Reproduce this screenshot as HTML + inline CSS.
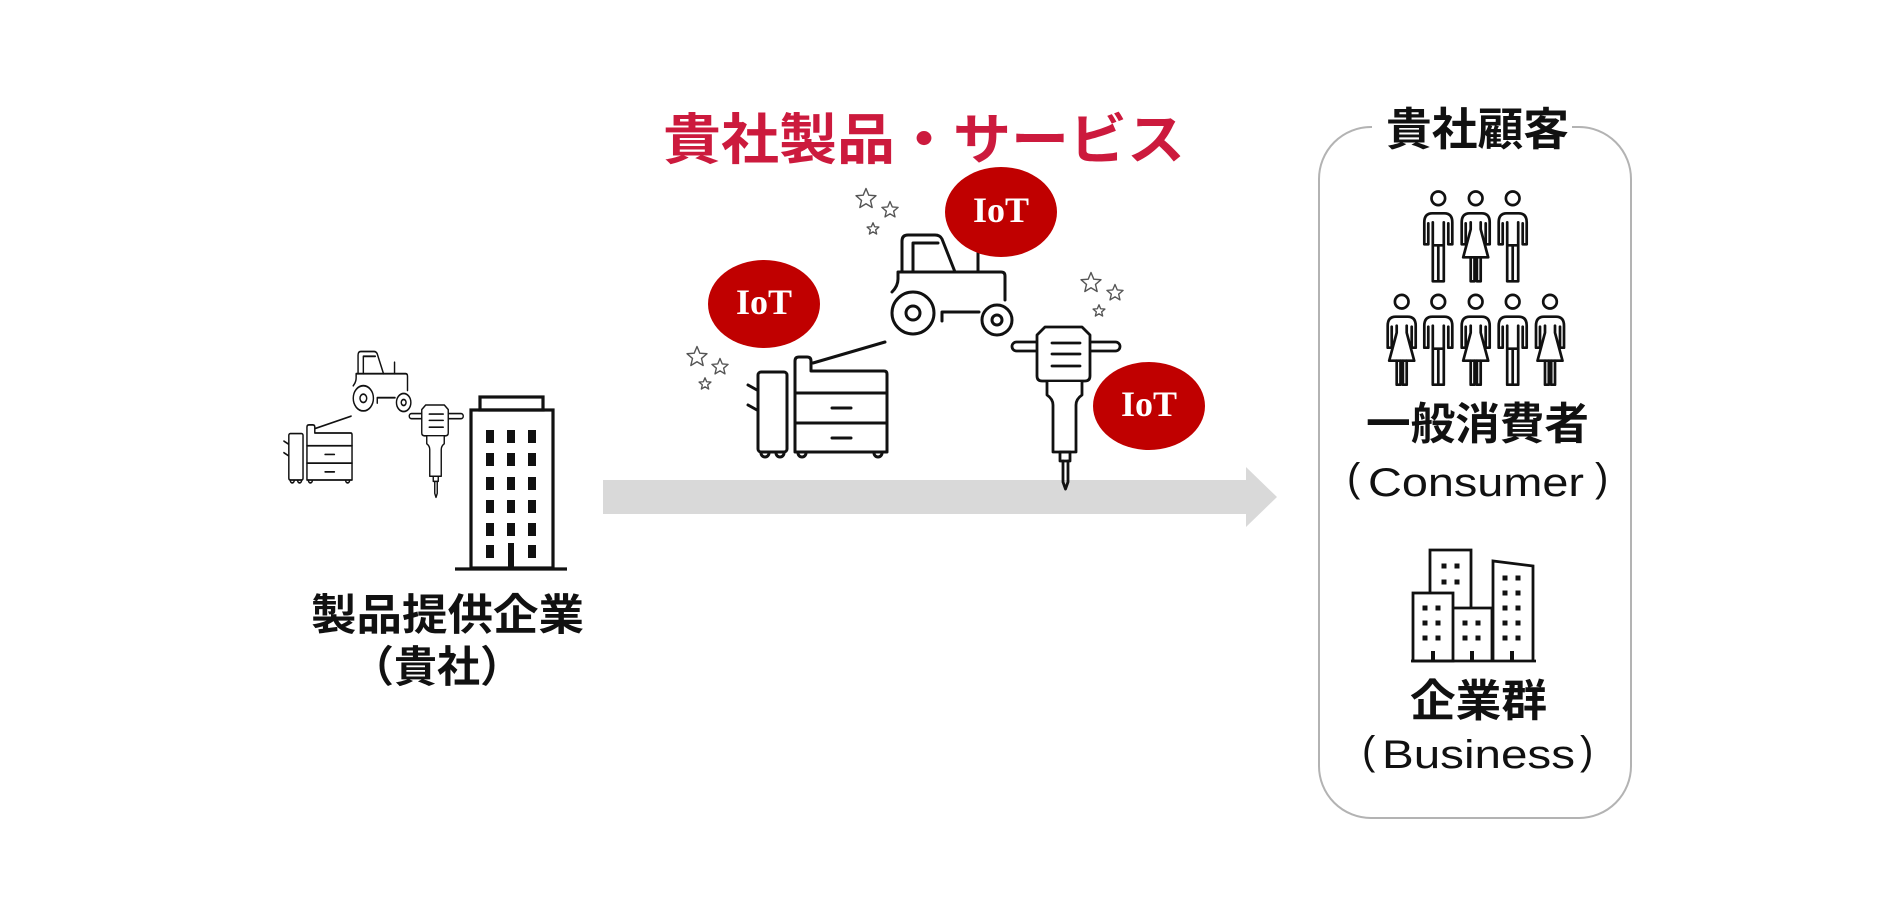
<!DOCTYPE html>
<html><head><meta charset="utf-8"><style>
html,body{margin:0;padding:0;background:#fff;}
svg{display:block;}
</style></head><body>
<svg width="1888" height="902" viewBox="0 0 1888 902" xmlns="http://www.w3.org/2000/svg">
<defs>
  <g id="tractor" fill="none" stroke="#111" stroke-width="3" stroke-linejoin="round" stroke-linecap="round">
    <path d="M902,272 L902,241 Q902,235 908,235 L935,235 Q940,235 942,239 L955,272"/>
    <path d="M913,272 L913,243 L938,243"/>
    <path d="M978,253 L978,272"/>
    <path d="M892,292 Q898,286 898,279 L898,272 L1001,272 Q1005,272 1005,276 L1005,300"/>
    <circle cx="913" cy="313" r="21" fill="#fff"/>
    <circle cx="913" cy="313" r="7"/>
    <circle cx="997" cy="320" r="15" fill="#fff"/>
    <circle cx="997" cy="320" r="5"/>
    <path d="M942,321 L942,312 L979,312"/>
  </g>
  <g id="copier" fill="none" stroke="#111" stroke-width="3" stroke-linejoin="round" stroke-linecap="round">
    <rect x="758" y="372" width="29" height="80" rx="3"/>
    <path d="M748,385 L757,390 M748,405 L757,410"/>
    <path d="M761,453 a4,4 0 0 0 8,0 M776,453 a4,4 0 0 0 8,0"/>
    <path d="M795,452 L795,361 Q795,357 799,357 L807,357 Q811,357 811,361 L811,371 L884,371 Q887,371 887,374 L887,452 Z"/>
    <path d="M813,363 L885,342"/>
    <path d="M795,393 L887,393 M795,423 L887,423"/>
    <path d="M832,408 L851,408 M832,438 L851,438"/>
    <path d="M798,453 a4,4 0 0 0 8,0 M874,453 a4,4 0 0 0 8,0"/>
  </g>
  <g id="hammer" fill="none" stroke="#111" stroke-width="2.8" stroke-linejoin="round" stroke-linecap="round">
    <rect x="1012" y="342" width="108" height="9" rx="4.5"/>
    <path d="M1045,327 L1082,327 L1090,335 L1090,376 Q1090,381 1085,381 L1042,381 Q1037,381 1037,376 L1037,335 Z" fill="#fff"/>
    <path d="M1052,343 L1080,343 M1052,354 L1080,354 M1052,366 L1080,366"/>
    <path d="M1047,382 L1047,395 Q1053,399 1053,405 L1053,452 L1076,452 L1076,405 Q1076,399 1082,395 L1082,382" fill="#fff"/>
    <rect x="1060" y="452" width="10" height="9"/>
    <path d="M1063,461 L1063,482 L1065.5,489 L1068,482 L1068,461"/>
  </g>
  <g id="man" fill="none" stroke="#111" stroke-width="2.7" stroke-linejoin="round" stroke-linecap="round">
    <circle cx="0" cy="0" r="6.8"/>
    <path d="M-10,25 L-10,46 L-14,46 L-14,24 Q-14,15 -6,15 L6,15 Q14,15 14,24 L14,46 L10,46 L10,25"/>
    <path d="M-5.5,24 L-5.5,83 L5.5,83 L5.5,24 M-5.5,47 L5.5,47 M0,47 L0,83"/>
  </g>
  <g id="woman" fill="none" stroke="#111" stroke-width="2.7" stroke-linejoin="round" stroke-linecap="round">
    <circle cx="0" cy="0" r="6.8"/>
    <path d="M-10,25 L-10,46 L-14,46 L-14,24 Q-14,15 -6,15 L6,15 Q14,15 14,24 L14,46 L10,46 L10,25"/>
    <path d="M-5,24 L-5,31 L-12.5,59 L12.5,59 L5,31 L5,24"/>
    <path d="M-5,59 L-5,83 L-1.2,83 L-1.2,59 M1.2,59 L1.2,83 L5,83 L5,59"/>
  </g>
  <polygon id="star" points="0,-10 2.645,-3.641 9.511,-3.09 4.28,1.391 5.878,8.09 0,4.5 -5.878,8.09 -4.28,1.391 -9.511,-3.09 -2.645,-3.641" fill="#fff" stroke="#555" stroke-linejoin="round"/>
</defs>

<rect width="1888" height="902" fill="#fff"/>

<!-- arrow -->
<rect x="603" y="480" width="645" height="34" fill="#d9d9d9"/>
<polygon points="1246,467 1277,497 1246,527" fill="#d9d9d9"/>

<!-- title -->
<text x="663" y="159" font-family="Liberation Sans, Noto Sans CJK JP, sans-serif" font-weight="bold" font-size="55" fill="#cc1a3d" textLength="522" lengthAdjust="spacingAndGlyphs">貴社製品・サービス</text>

<!-- stars -->
<g stroke-width="1.4">
  <use href="#star" transform="translate(866,199) scale(1.05)" style="stroke-width:1.33"/>
  <use href="#star" transform="translate(890,210) scale(0.85)" style="stroke-width:1.6"/>
  <use href="#star" transform="translate(873,229) scale(0.62)" style="stroke-width:2.2"/>
  <use href="#star" transform="translate(697,357) scale(1.05)" style="stroke-width:1.33"/>
  <use href="#star" transform="translate(720,367) scale(0.85)" style="stroke-width:1.6"/>
  <use href="#star" transform="translate(705,384) scale(0.62)" style="stroke-width:2.2"/>
  <use href="#star" transform="translate(1091,283) scale(1.05)" style="stroke-width:1.33"/>
  <use href="#star" transform="translate(1115,293) scale(0.85)" style="stroke-width:1.6"/>
  <use href="#star" transform="translate(1099,311) scale(0.62)" style="stroke-width:2.2"/>
</g>

<!-- big icons -->
<use href="#tractor"/>
<use href="#copier"/>
<use href="#hammer"/>

<!-- IoT bubbles -->
<ellipse cx="1001" cy="212" rx="56" ry="45" fill="#c00000"/>
<text x="1001" y="222" text-anchor="middle" font-family="Liberation Serif, serif" font-weight="bold" font-size="36" fill="#fff">IoT</text>
<ellipse cx="764" cy="304" rx="56" ry="44" fill="#c00000"/>
<text x="764" y="314" text-anchor="middle" font-family="Liberation Serif, serif" font-weight="bold" font-size="36" fill="#fff">IoT</text>
<ellipse cx="1149" cy="406" rx="56" ry="44" fill="#c00000"/>
<text x="1149" y="416" text-anchor="middle" font-family="Liberation Serif, serif" font-weight="bold" font-size="36" fill="#fff">IoT</text>

<!-- left small icons -->
<use href="#tractor" transform="matrix(0.48,0,0,0.6,-74.9,210.5)"/>
<use href="#copier" transform="matrix(0.49,0,0,0.58,-82.6,217.8)"/>
<use href="#hammer" transform="matrix(0.5,0,0,0.57,-96.75,218.6)"/>

<!-- left building -->
<g fill="none" stroke="#111" stroke-width="3.2" stroke-linejoin="miter">
  <rect x="480" y="397" width="63" height="13"/>
  <rect x="471" y="410" width="82" height="158"/>
  <path d="M455,569 L567,569"/>
</g>
<g fill="#111">
  <rect x="486" y="430" width="8" height="13"/><rect x="507" y="430" width="8" height="13"/><rect x="528" y="430" width="8" height="13"/>
  <rect x="486" y="453" width="8" height="13"/><rect x="507" y="453" width="8" height="13"/><rect x="528" y="453" width="8" height="13"/>
  <rect x="486" y="477" width="8" height="13"/><rect x="507" y="477" width="8" height="13"/><rect x="528" y="477" width="8" height="13"/>
  <rect x="486" y="500" width="8" height="13"/><rect x="507" y="500" width="8" height="13"/><rect x="528" y="500" width="8" height="13"/>
  <rect x="486" y="523" width="8" height="13"/><rect x="507" y="523" width="8" height="13"/><rect x="528" y="523" width="8" height="13"/>
  <rect x="486" y="545" width="8" height="13"/><rect x="508" y="543" width="6" height="26"/><rect x="528" y="545" width="8" height="13"/>
</g>

<text x="311" y="630" font-family="Liberation Sans, Noto Sans CJK JP, sans-serif" font-weight="bold" font-size="43" fill="#111" textLength="273" lengthAdjust="spacingAndGlyphs">製品提供企業</text>
<text x="437" y="682" text-anchor="middle" font-family="Liberation Sans, Noto Sans CJK JP, sans-serif" font-weight="bold" font-size="43" fill="#111">（貴社）</text>

<!-- right box -->
<rect x="1319" y="127" width="312" height="691" rx="52" ry="52" fill="none" stroke="#b3b3b3" stroke-width="2"/>
<rect x="1372" y="112" width="200" height="30" fill="#fff"/>
<text x="1386" y="145" font-family="Liberation Sans, Noto Sans CJK JP, sans-serif" font-weight="bold" font-size="45" fill="#111" textLength="183" lengthAdjust="spacingAndGlyphs">貴社顧客</text>

<!-- people -->
<use href="#man" x="1438.3" y="198.3"/>
<use href="#woman" x="1475.7" y="198.3"/>
<use href="#man" x="1512.7" y="198.3"/>
<use href="#woman" x="1401.7" y="301.7"/>
<use href="#man" x="1438.3" y="301.7"/>
<use href="#woman" x="1475.7" y="301.7"/>
<use href="#man" x="1512.7" y="301.7"/>
<use href="#woman" x="1550" y="301.7"/>

<text x="1366" y="439" font-family="Liberation Sans, Noto Sans CJK JP, sans-serif" font-weight="bold" font-size="44" fill="#111" textLength="223" lengthAdjust="spacingAndGlyphs">一般消費者</text>
<text x="1347" y="491" font-family="Liberation Sans, sans-serif" font-size="40" fill="#111">(</text>
<text x="1368" y="496" font-family="Liberation Sans, sans-serif" font-size="40" fill="#111" textLength="216" lengthAdjust="spacingAndGlyphs">Consumer</text>
<text x="1595" y="491" font-family="Liberation Sans, sans-serif" font-size="40" fill="#111">)</text>

<!-- business buildings -->
<g fill="none" stroke="#111" stroke-width="2.8" stroke-linejoin="miter">
  <path d="M1430,593 L1430,550 L1471,550 L1471,608"/>
  <rect x="1413" y="593" width="40" height="68"/>
  <path d="M1453,608 L1492,608 L1492,661"/>
  <path d="M1493,661 L1493,561 L1533,566 L1533,661"/>
  <path d="M1411,661 L1536,661"/>
</g>
<g fill="#111">
  <rect x="1441.5" y="563.5" width="5" height="5"/><rect x="1454.5" y="563.5" width="5" height="5"/>
  <rect x="1441.5" y="579.5" width="5" height="5"/><rect x="1454.5" y="579.5" width="5" height="5"/>
  <rect x="1422.5" y="605.5" width="5" height="5"/><rect x="1435.5" y="605.5" width="5" height="5"/>
  <rect x="1422.5" y="620.5" width="5" height="5"/><rect x="1435.5" y="620.5" width="5" height="5"/>
  <rect x="1422.5" y="635.5" width="5" height="5"/><rect x="1435.5" y="635.5" width="5" height="5"/>
  <rect x="1462.5" y="620.5" width="5" height="5"/><rect x="1475.5" y="620.5" width="5" height="5"/>
  <rect x="1462.5" y="635.5" width="5" height="5"/><rect x="1475.5" y="635.5" width="5" height="5"/>
  <rect x="1502.5" y="575.5" width="5" height="5"/><rect x="1515.5" y="575.5" width="5" height="5"/>
  <rect x="1502.5" y="590.5" width="5" height="5"/><rect x="1515.5" y="590.5" width="5" height="5"/>
  <rect x="1502.5" y="605.5" width="5" height="5"/><rect x="1515.5" y="605.5" width="5" height="5"/>
  <rect x="1502.5" y="620.5" width="5" height="5"/><rect x="1515.5" y="620.5" width="5" height="5"/>
  <rect x="1502.5" y="635.5" width="5" height="5"/><rect x="1515.5" y="635.5" width="5" height="5"/>
  <rect x="1431" y="651" width="4" height="10"/>
  <rect x="1470" y="651" width="4" height="10"/>
  <rect x="1510" y="651" width="4" height="10"/>
</g>

<text x="1410" y="716" font-family="Liberation Sans, Noto Sans CJK JP, sans-serif" font-weight="bold" font-size="44" fill="#111" textLength="137" lengthAdjust="spacingAndGlyphs">企業群</text>
<text x="1362" y="764" font-family="Liberation Sans, sans-serif" font-size="40" fill="#111">(</text>
<text x="1382" y="768" font-family="Liberation Sans, sans-serif" font-size="40" fill="#111" textLength="193" lengthAdjust="spacingAndGlyphs">Business</text>
<text x="1580" y="764" font-family="Liberation Sans, sans-serif" font-size="40" fill="#111">)</text>
</svg>
</body></html>
